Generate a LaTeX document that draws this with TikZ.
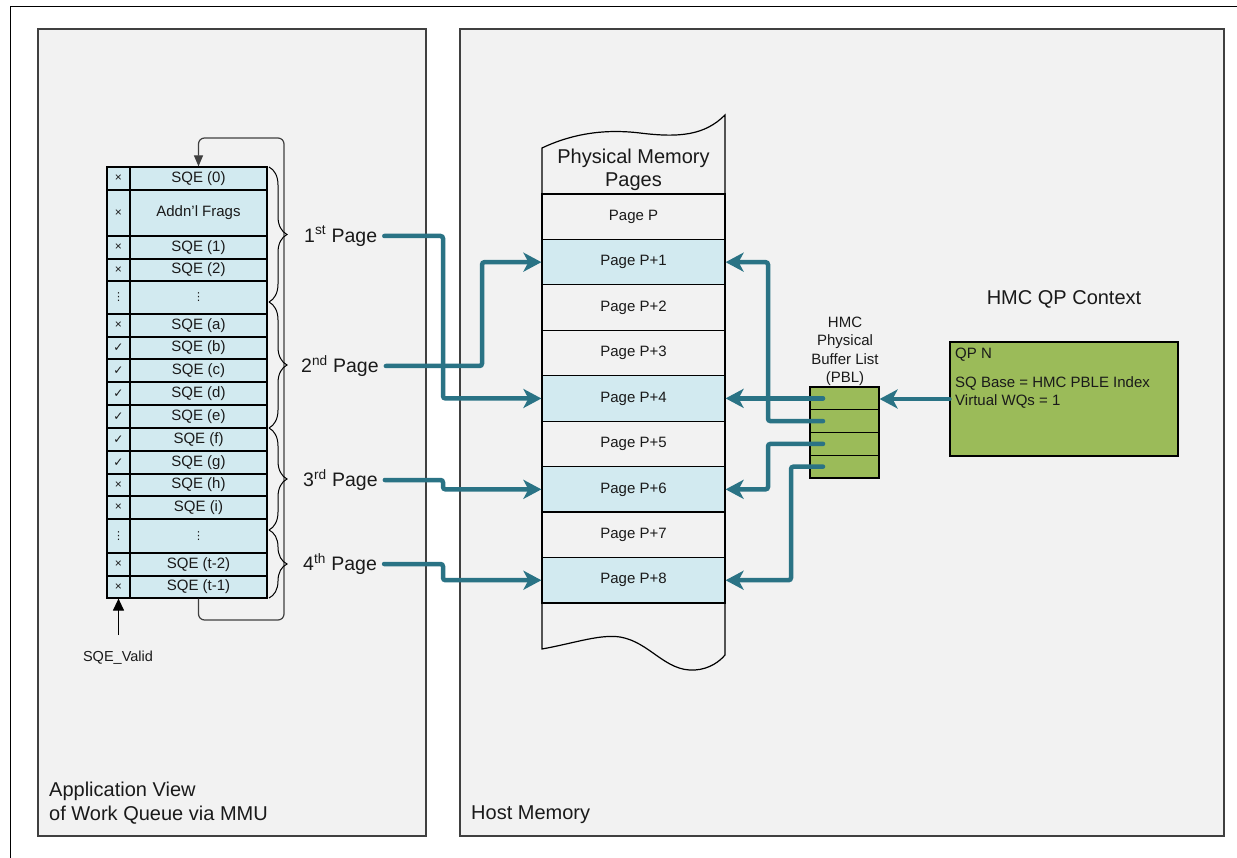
\documentclass[tikz,border=0pt]{standalone}
\usepackage{fontspec}
\setmainfont{Liberation Sans}
\newfontfamily\dejavu{DejaVu Sans}
\usetikzlibrary{arrows.meta,decorations.pathreplacing,calc}
\definecolor{panelgray}{HTML}{F2F2F2}
\definecolor{rowblue}{HTML}{D2EAF0}
\definecolor{pblgreen}{HTML}{9BBB59}
\definecolor{arrowteal}{HTML}{2A7385}
\definecolor{edgegray}{HTML}{404040}
\definecolor{txt}{HTML}{1A1A1A}
\newcommand\fsmall{\fontsize{15}{18}\selectfont}
\newcommand\fbig{\fontsize{20}{23.5}\selectfont}
\newcommand\mycross{{\fontsize{12}{12}\selectfont ×}}
\newcommand\mycheck{{\dejavu\fontsize{12}{12}\selectfont ✓}}
\newcommand\mydots{{\dejavu\fontsize{11}{11}\selectfont ⋮}}
\newcommand\sqerow[5]{%
  \node[markcell, minimum height={(#3-#2)*1pt}] (m#1) at (118.5,{(#2+#3)/2}) {#4};
  \node[sqecell, minimum height={(#3-#2)*1pt}] (r#1) at (198.5,{(#2+#3)/2}) {#5};
}
\begin{document}
\begin{tikzpicture}[x=1pt,y=-1pt,
  panel/.style={draw=edgegray, line width=1.3pt, fill=panelgray},
  markcell/.style={draw=black, line width=1.2pt, fill=rowblue, inner sep=0pt, minimum width=23pt, text=txt},
  sqecell/.style={draw=black, line width=1.2pt, fill=rowblue, inner sep=0pt, minimum width=137pt, font=\fsmall, text=txt},
  pagebox/.style={draw=black, line width=1.2pt, inner sep=0pt, font=\fsmall, text=txt, minimum width=183pt, minimum height=45.44pt},
  bluepage/.style={pagebox, fill=rowblue},
  pblrow/.style={draw=black, line width=1.2pt, fill=pblgreen, minimum width=69pt, minimum height=22.75pt, inner sep=0pt},
  conn/.style={draw=arrowteal, line width=4.5pt, line cap=round, rounded corners=2.5pt, -{Stealth[length=18pt,width=19pt,inset=5pt]}},
  brace/.style={draw=black, line width=1pt, decorate, decoration={brace, amplitude=18pt}},
  plain/.style={inner sep=0pt, text=txt},
  pagelabel/.style={plain, anchor=west, font=\fontsize{19.5}{22}\selectfont}
]
\useasboundingbox (0,0) rectangle (1237,858);
\fill[white] (0,0) rectangle (1237,858);
% outer frame
\draw[line width=1.5pt] (10.5,858) -- (10.5,6.5) -- (1237,6.5);
% panels
\draw[panel] (38,29) rectangle (426,836);
\draw[panel] (460,29) rectangle (1224,836);
\node[plain, anchor=west, align=left, font=\fontsize{20}{24}\selectfont] (applabel) at (49,803) {Application View\\of Work Queue via MMU};
\node[plain, anchor=west, font=\fontsize{20}{24}\selectfont] (hostlabel) at (471,815) {Host Memory};

\coordinate (lb) at (284,620);
\coordinate (lt) at (284,138);

% SQE table
\sqerow{0}{167}{190}{\mycross}{SQE (0)}
\sqerow{1}{190}{236}{\mycross}{Addn'l Frags}
\sqerow{2}{236}{259}{\mycross}{SQE (1)}
\sqerow{3}{259}{281}{\mycross}{SQE (2)}
\sqerow{4}{281}{314}{\mydots}{\mydots}
\sqerow{5}{314}{337}{\mycross}{SQE (a)}
\sqerow{6}{337}{359}{\mycheck}{SQE (b)}
\sqerow{7}{359}{382}{\mycheck}{SQE (c)}
\sqerow{8}{382}{405}{\mycheck}{SQE (d)}
\sqerow{9}{405}{428}{\mycheck}{SQE (e)}
\sqerow{10}{428}{451}{\mycheck}{SQE (f)}
\sqerow{11}{451}{474}{\mycheck}{SQE (g)}
\sqerow{12}{474}{496}{\mycross}{SQE (h)}
\sqerow{13}{496}{519}{\mycross}{SQE (i)}
\sqerow{14}{519}{553}{\mydots}{\mydots}
\sqerow{15}{553}{576}{\mycross}{SQE (t-2)}
\sqerow{16}{576}{598}{\mycross}{SQE (t-1)}

\draw[draw=edgegray, line width=1.2pt, rounded corners=6pt, -{Triangle[length=11pt,width=9pt]}]
  (r16.south) |- (lb) -- (lt) -| (r0.north);

% braces
\draw[brace] (269,167) -- (269,302);
\draw[brace] (269,302) -- (269,428);
\draw[brace] (269,428) -- (269,530);
\draw[brace] (269,530) -- (269,598);

\node[pagelabel] (l1) at (304,236) {1\textsuperscript{st} Page};
\node[pagelabel] (l2) at (301,366) {2\textsuperscript{nd} Page};
\node[pagelabel] (l3) at (303,480) {3\textsuperscript{rd} Page};
\node[pagelabel] (l4) at (303,564) {4\textsuperscript{th} Page};

% SQE_Valid
\node[plain, font=\fontsize{14.5}{17}\selectfont] (valid) at (118,658) {SQE\_Valid};
\coordinate (vt) at ([yshift=16pt]valid.north);
\draw[line width=1.2pt, -{Triangle[length=12pt,width=11pt]}] (m16.south |- vt) -- (m16.south);

% Physical memory column
\draw[line width=1.2pt, fill=panelgray] (542,194) -- (542,148)
  .. controls (580,130) and (615,130) .. (640,133)
  .. controls (680,138) and (705,135) .. (725,115) -- (725,194);
\draw[line width=1.2pt, fill=panelgray] (542,603) -- (542,649)
  .. controls (575,643) and (600,634) .. (620,637)
  .. controls (650,642) and (665,672) .. (695,670)
  .. controls (710,669) and (720,661) .. (725,655) -- (725,603);
\node[plain, font=\fbig, align=center] (hdr) at (633.5,170) {Physical Memory\\Pages};
\node[pagebox] (p0) at (633.5,{194+22.72}) {Page P};
\node[bluepage] (p1) at (633.5,{194+45.44*1+22.72}) {Page P+1};
\node[pagebox] (p2) at (633.5,{194+45.44*2+22.72}) {Page P+2};
\node[pagebox] (p3) at (633.5,{194+45.44*3+22.72}) {Page P+3};
\node[bluepage] (p4) at (633.5,{194+45.44*4+22.72}) {Page P+4};
\node[pagebox] (p5) at (633.5,{194+45.44*5+22.72}) {Page P+5};
\node[bluepage] (p6) at (633.5,{194+45.44*6+22.72}) {Page P+6};
\node[pagebox] (p7) at (633.5,{194+45.44*7+22.72}) {Page P+7};
\node[bluepage] (p8) at (633.5,{194+45.44*8+22.72}) {Page P+8};

% PBL
\node[plain, font=\fontsize{15}{18.5}\selectfont, align=center] (pbllab) at (845,351.5) {HMC\\Physical\\Buffer List\\(PBL)};
\node[pblrow] (b1) at (844.5,{387+11.375}) {};
\node[pblrow] (b2) at (844.5,{387+22.75+11.375}) {};
\node[pblrow] (b3) at (844.5,{387+45.5+11.375}) {};
\node[pblrow] (b4) at (844.5,{387+68.25+11.375}) {};

% QP context
\node[plain, font=\fbig] (qptitle) at (1064,299) {HMC QP Context};
\node[draw=black, line width=1.2pt, fill=pblgreen, minimum width=228pt, minimum height=114pt] (qp) at (1064,399) {};
\node[plain, anchor=west, font=\fsmall] (qpn) at (955,355) {QP N};
\node[plain, anchor=west, align=left, font=\fsmall] (qptxt) at (955,392) {SQ Base = HMC PBLE Index\\Virtual WQs = 1};

% teal connectors: left side
\coordinate (v1) at (443,0);
\coordinate (v2) at (482,0);
\coordinate (s1) at ([xshift=7pt]l1.east);
\coordinate (s2) at ([xshift=7pt]l2.east);
\coordinate (s3) at ([xshift=7pt]l3.east);
\coordinate (s4) at ([xshift=7pt]l4.east);
\draw[conn] (s1) -- (s1 -| v1) -- (v1 |- p4.west) -- (p4.west);
\draw[conn] (s2) -- (s2 -| v2) -- (v2 |- p1.west) -- (p1.west);
\draw[conn] (s3) -- (s3 -| v1) -- (v1 |- p6.west) -- (p6.west);
\draw[conn] (s4) -- (s4 -| v1) -- (v1 |- p8.west) -- (p8.west);

% teal connectors: PBL side
\coordinate (v3) at (768,0);
\coordinate (v4) at (791,0);
\coordinate (bs1) at ([xshift=-21.5pt]b1.center);
\coordinate (bs2) at ([xshift=-21.5pt]b2.center);
\coordinate (bs3) at ([xshift=-21.5pt]b3.center);
\coordinate (bs4) at ([xshift=-21.5pt]b4.center);
\draw[conn] (bs2) -- (bs2 -| v3) -- (v3 |- p1.east) -- (p1.east);
\draw[conn] (bs3) -- (bs3 -| v3) -- (v3 |- p6.east) -- (p6.east);
\draw[conn] (bs4) -- (bs4 -| v4) -- (v4 |- p8.east) -- (p8.east);
\draw[conn] (bs1) -- (bs1 -| p4.east);
\draw[conn] (qp.west) -- (qp.west -| b1.east);
\end{tikzpicture}
\end{document}
